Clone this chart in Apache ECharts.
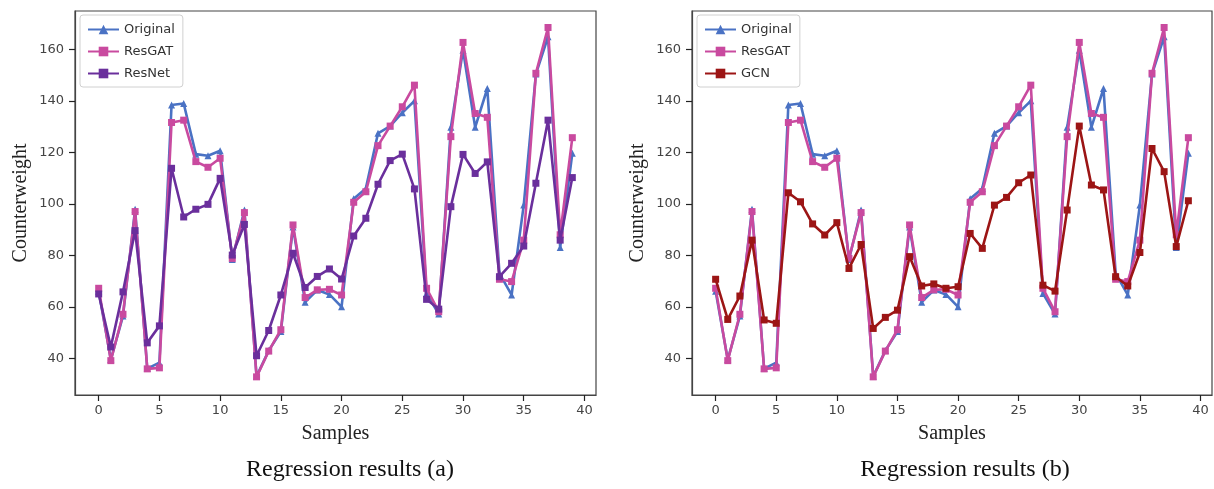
<!DOCTYPE html>
<html>
<head>
<meta charset="utf-8">
<script src="https://cdn.jsdelivr.net/npm/echarts@6/dist/echarts.min.js"></script>
<style>
html,body{margin:0;padding:0;background:#fff;}
#c{width:1214px;height:489px;}
</style>
</head>
<body>
<div id="c"></div>
<script>
const samples = [0,1,2,3,4,5,6,7,8,9,10,11,12,13,14,15,16,17,18,19,20,21,22,23,24,25,26,27,28,29,30,31,32,33,34,35,36,37,38,39];
const xTicks = [0,5,10,15,20,25,30,35,40];
const yTicks = [40,60,80,100,120,140,160];

const original = [66,39.5,56.4,97.9,36,38.3,138.4,139,119.3,118.7,120.6,78.4,97.6,33,43,50.4,91,61.8,66.5,64.8,60,102,106,127.4,130.2,135.4,140,65.2,57.2,129.7,159.7,129.7,144.8,73,64.6,99.5,150.4,164.9,83,119.6];
const resgat = [67.2,39.1,57.1,97,35.9,36.3,131.6,132.5,116.4,114.2,117.7,78.8,96.6,32.8,42.8,51.1,91.8,63.6,66.6,66.8,64.6,100.6,104.7,122.6,130.2,137.7,146.1,67.2,58.1,126.1,162.7,135.1,133.6,70.7,69.8,85.9,150.7,168.5,88,125.7];
const resnet = [65,44.4,65.8,89.6,46,52.6,113.8,94.9,97.9,99.8,109.9,80.1,92,41,50.8,64.6,80.8,67.5,71.8,74.7,70.8,87.5,94.4,107.6,116.8,119.3,105.8,62.9,59.1,98.9,119.2,111.8,116.3,71.7,76.9,83.6,108,132.5,85.9,110.2];
const gcn = [70.7,55.1,64.2,85.9,54.9,53.6,104.3,100.8,92.2,87.9,92.7,74.9,84.2,51.6,55.9,58.7,79.5,68.1,68.9,67.2,67.8,88.5,82.7,99.5,102.5,108.2,111.2,68.4,66.1,97.6,130.2,107.3,105.4,71.7,68.1,81.1,121.5,112.5,83.4,101.2];

const C_ORIG = '#4a72c4', C_GAT = '#c94a9f', C_NET = '#6a2f9c', C_GCN = '#9c1515';
const pairs = arr => samples.map((s, i) => [s, arr[i]]);

function xAx(gi) {
  return {
    gridIndex: gi, type: 'value', min: -1.95, max: 40.95,
    name: 'Samples', nameLocation: 'middle', nameGap: 29,
    nameTextStyle: {fontFamily: 'Liberation Serif', fontSize: 20, color: '#222'},
    axisLine: {show: true, onZero: false, lineStyle: {color: '#444', width: 1.2}},
    axisTick: {show: true, customValues: xTicks, length: 6, lineStyle: {color: '#222', width: 1.2}},
    axisLabel: {customValues: xTicks, fontFamily: 'DejaVu Sans', fontSize: 13, color: '#444', margin: 9},
    splitLine: {show: false}
  };
}
function yAx(gi) {
  return {
    gridIndex: gi, type: 'value', min: 25.75, max: 174.9,
    name: 'Counterweight', nameLocation: 'middle', nameGap: 44, nameRotate: 90,
    nameTextStyle: {fontFamily: 'Liberation Serif', fontSize: 20, color: '#222'},
    axisLine: {show: true, onZero: false, lineStyle: {color: '#444', width: 1.2}},
    axisTick: {show: true, customValues: yTicks, length: 6, lineStyle: {color: '#222', width: 1.2}},
    axisLabel: {customValues: yTicks, fontFamily: 'DejaVu Sans', fontSize: 13, color: '#444', margin: 11},
    splitLine: {show: false}
  };
}
function ser(name, arr, color, symbol, gi, z) {
  return {
    name, type: 'line', xAxisIndex: gi, yAxisIndex: gi, data: pairs(arr),
    symbol, symbolSize: 7, showAllSymbol: true,
    lineStyle: {color, width: 2.6}, itemStyle: {color}, z, animation: false
  };
}
const legendBase = {
  orient: 'vertical', top: 15, itemWidth: 31, itemHeight: 12, itemGap: 9,
  padding: [8, 8, 7, 7], borderColor: '#d0d0d0', borderWidth: 1, borderRadius: 3,
  backgroundColor: 'rgba(255,255,255,0.85)',
  textStyle: {fontFamily: 'DejaVu Sans', fontSize: 13, color: '#333'}
};

const chart = echarts.init(document.getElementById('c'), null, {renderer: 'canvas'});
chart.setOption({
  animation: false,
  backgroundColor: '#fff',
  title: [
    {text: 'Regression results (a)', left: 345, top: 453, textAlign: 'center',
     textStyle: {fontFamily: 'Liberation Serif', fontSize: 24, fontWeight: 'normal', color: '#111'}},
    {text: 'Regression results (b)', left: 960, top: 453, textAlign: 'center',
     textStyle: {fontFamily: 'Liberation Serif', fontSize: 24, fontWeight: 'normal', color: '#111'}}
  ],
  grid: [
    {left: 75, top: 11, width: 521, height: 384, show: true, borderColor: '#444', borderWidth: 1.2},
    {left: 692, top: 11, width: 520, height: 384, show: true, borderColor: '#444', borderWidth: 1.2}
  ],
  xAxis: [xAx(0), xAx(1)],
  yAxis: [yAx(0), yAx(1)],
  legend: [
    Object.assign({}, legendBase, {left: 80, data: ['Original', 'ResGAT', 'ResNet']}),
    Object.assign({}, legendBase, {left: 697, data: ['Original', 'ResGAT', 'GCN']})
  ],
  series: [
    ser('Original', original, C_ORIG, 'triangle', 0, 2),
    ser('ResGAT', resgat, C_GAT, 'rect', 0, 3),
    ser('ResNet', resnet, C_NET, 'rect', 0, 4),
    ser('Original', original, C_ORIG, 'triangle', 1, 2),
    ser('ResGAT', resgat, C_GAT, 'rect', 1, 3),
    ser('GCN', gcn, C_GCN, 'rect', 1, 4)
  ]
});
</script>
</body>
</html>
